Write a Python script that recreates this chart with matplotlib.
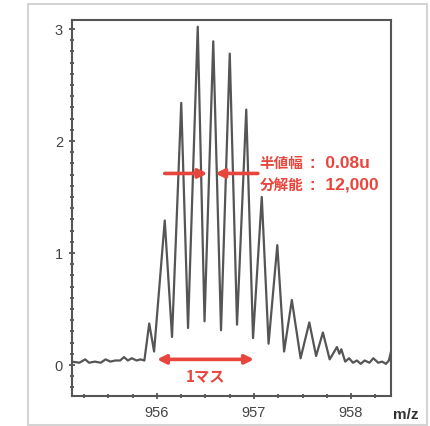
import numpy as np
import matplotlib.pyplot as plt
from matplotlib.patches import Rectangle
from matplotlib.ticker import MultipleLocator

# spectrum trace (m/z, intensity)
mz = [955.12, 955.20, 955.26, 955.30, 955.36, 955.42, 955.47, 955.52, 955.57,
      955.62, 955.66, 955.70, 955.74, 955.79, 955.83, 955.87,
      955.92, 955.97,
      956.08, 956.155,
      956.25, 956.32,
      956.42, 956.49,
      956.58, 956.66,
      956.75, 956.825,
      956.92, 956.99,
      957.08, 957.15,
      957.24, 957.31,
      957.39, 957.48,
      957.57, 957.64,
      957.71, 957.78,
      957.855, 957.88, 957.90, 957.94,
      957.98, 958.02, 958.06, 958.10, 958.14, 958.19, 958.23, 958.28,
      958.32, 958.36, 958.39, 958.412]
intensity = [0.03, 0.02, 0.05, 0.02, 0.03, 0.02, 0.05, 0.03, 0.04,
             0.04, 0.07, 0.04, 0.06, 0.04, 0.05, 0.04,
             0.37, 0.12,
             1.29, 0.25,
             2.34, 0.33,
             3.02, 0.39,
             2.89, 0.31,
             2.78, 0.36,
             2.28, 0.24,
             1.50, 0.19,
             1.07, 0.12,
             0.58, 0.06,
             0.38, 0.08,
             0.29, 0.05,
             0.16, 0.10, 0.14, 0.03,
             0.06, 0.02, 0.04, 0.01, 0.04, 0.02, 0.06, 0.02,
             0.03, 0.01, 0.04, 0.12]

x_ticks = [956, 957, 958]
y_ticks = [0, 1, 2, 3]

fwhm_name, fwhm_value = '半値幅', ' :  0.08u'
res_name, res_value = '分解能', ' :  12,000'
mass_label = '1マス'

red = '#e8453c'
jp_font = ['Noto Sans CJK JP', 'DejaVu Sans']
num_font = ['Liberation Sans', 'Noto Sans CJK JP']

fig = plt.figure(figsize=(4.30, 4.27), dpi=100)
fig.patch.set_facecolor('white')
fig.add_artist(Rectangle((28 / 430, 0.002), 399 / 430, 1 - 5 / 427 - 0.002,
                         transform=fig.transFigure, fill=False,
                         edgecolor='#d4d4d4', lw=1.5))

ax = fig.add_axes([72 / 430, 1 - 397 / 427, 319 / 430, 376 / 427])
ax.plot(mz, intensity, color='#555555', lw=1.6, solid_joinstyle='round')

ax.set_xlim(955.124, 958.412)
ax.set_ylim(-0.277, 3.08)
ax.set_xticks(x_ticks)
ax.set_yticks(y_ticks)
ax.xaxis.set_minor_locator(MultipleLocator(0.25))
ax.yaxis.set_minor_locator(MultipleLocator(0.1))
for sp in ax.spines.values():
    sp.set_color('#555555')
    sp.set_linewidth(1.5)
ax.tick_params(which='both', direction='inout', color='#555555', width=1.3,
               labelsize=10.5, labelcolor='#444444')
ax.tick_params(which='major', length=5, pad=4)
ax.tick_params(which='minor', length=3.5)
for lab in ax.get_xticklabels() + ax.get_yticklabels():
    lab.set_family('Liberation Sans')

ax.text(1.005, -0.048, 'm/z', transform=ax.transAxes, fontsize=11,
        fontweight='bold', color='#333333', family='Liberation Sans',
        ha='left', va='center')

# half-width arrows
arr = dict(arrowstyle='-|>', color=red, lw=2.6, mutation_scale=13,
           shrinkA=0, shrinkB=0)
ax.annotate('', xy=(956.52, 1.71), xytext=(956.08, 1.71), arrowprops=arr)
ax.annotate('', xy=(956.60, 1.71), xytext=(957.04, 1.71), arrowprops=arr)
for yy, name, value in [(1.81, fwhm_name, fwhm_value), (1.62, res_name, res_value)]:
    ax.text(957.06, yy, name, color=red, fontsize=10.5, fontweight='bold',
            family=jp_font, ha='left', va='center')
    ax.text(957.525, yy, value, color=red, fontsize=12.5, fontweight='bold',
            family=num_font, ha='left', va='center')

# one mass unit arrow
arr2 = dict(arrowstyle='<|-|>', color=red, lw=2.6, mutation_scale=13,
            shrinkA=0, shrinkB=0)
ax.annotate('', xy=(957.0, 0.05), xytext=(956.0, 0.05), arrowprops=arr2)
ax.text(956.5, -0.09, mass_label, color=red, fontsize=11, fontweight='bold',
        family=jp_font, ha='center', va='center')

fig.savefig('out.png', dpi=100)
